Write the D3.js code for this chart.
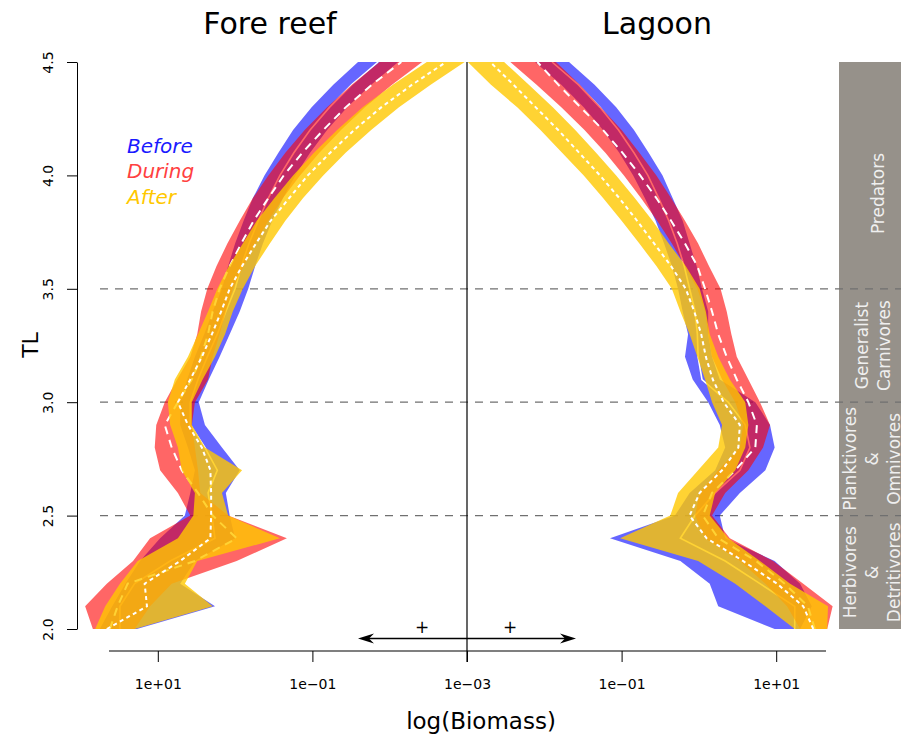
<!DOCTYPE html>
<html><head><meta charset="utf-8">
<script src="https://cdn.jsdelivr.net/npm/d3@7/dist/d3.min.js"></script>
<style>
body{margin:0;background:#fff}
svg{display:block}
text{font-family:"DejaVu Sans",sans-serif}
</style>
</head><body>
<svg id="chart" width="901" height="740"></svg>
<script>
// Trophic levels (y)
const tl = [2.0,2.1,2.2,2.3,2.4,2.5,2.6,2.7,2.8,2.9,3.0,3.1,3.2,3.3,3.4,3.5,3.6,3.7,3.8,3.9,4.0,4.1,4.2,4.3,4.4,4.5];

// log10(biomass) bands: lo / hi and median, per habitat and period
const foreBeforeHi = [1.75,1.59,1.42,1.23,0.97,0.65,0.58,0.52,0.61,0.71,0.71,0.62,0.52,0.40,0.29,0.17,0.09,0.00,-0.11,-0.23,-0.38,-0.56,-0.75,-0.99,-1.27,-1.59];
const foreBeforeLo = [1.27,0.26,0.71,0.52,0.00,0.07,0.12,-0.06,0.17,0.39,0.47,0.34,0.20,0.07,-0.06,-0.17,-0.26,-0.36,-0.48,-0.62,-0.78,-0.97,-1.19,-1.45,-1.76,-2.11];
const foreBeforeMed = [1.49,1.49,1.30,0.84,0.26,0.30,0.35,0.23,0.39,0.58,0.58,0.48,0.36,0.23,0.12,0.00,-0.08,-0.18,-0.30,-0.43,-0.58,-0.76,-0.97,-1.22,-1.51,-1.85];

const foreDuringHi = [1.84,1.94,1.66,1.32,1.10,0.58,0.74,0.97,1.04,1.02,0.91,0.75,0.58,0.49,0.44,0.36,0.24,0.10,-0.06,-0.23,-0.43,-0.65,-0.90,-1.19,-1.51,-1.87];
const foreDuringLo = [1.30,1.10,0.82,-0.02,-0.67,0.09,0.45,0.48,0.52,0.56,0.52,0.35,0.29,0.20,0.12,0.03,-0.11,-0.26,-0.43,-0.62,-0.84,-1.09,-1.37,-1.68,-2.03,-2.42];
const foreDuringMed = [1.62,1.52,1.39,0.52,-0.02,0.29,0.48,0.69,0.82,0.91,0.74,0.56,0.44,0.35,0.29,0.20,0.07,-0.08,-0.24,-0.43,-0.63,-0.87,-1.14,-1.43,-1.77,-2.15];

const foreAfterHi = [1.81,1.68,1.49,1.26,0.74,0.54,0.52,0.69,0.74,0.84,0.87,0.78,0.61,0.48,0.35,0.23,0.08,-0.10,-0.28,-0.51,-0.75,-1.02,-1.32,-1.65,-2.04,-2.48];
const foreAfterLo = [1.30,0.29,0.65,0.49,-0.58,0.09,0.17,-0.09,0.39,0.56,0.56,0.42,0.26,0.13,0.03,-0.10,-0.26,-0.45,-0.65,-0.88,-1.14,-1.43,-1.76,-2.12,-2.53,-2.97];
const foreAfterMed = [1.66,1.14,1.17,0.71,0.32,0.31,0.31,0.32,0.43,0.61,0.74,0.58,0.43,0.30,0.18,0.07,-0.09,-0.27,-0.46,-0.70,-0.94,-1.23,-1.54,-1.89,-2.29,-2.73];

const lagBeforeLo = [0.98,0.25,0.14,-0.24,-1.15,-0.31,-0.12,0.21,0.34,0.27,0.12,-0.08,-0.18,-0.14,-0.21,-0.27,-0.35,-0.45,-0.56,-0.70,-0.85,-1.03,-1.24,-1.49,-1.78,-2.12];
const lagBeforeHi = [1.31,1.46,1.31,0.98,0.34,0.27,0.53,0.86,0.98,0.92,0.73,0.27,0.17,0.12,0.12,0.04,-0.03,-0.12,-0.21,-0.34,-0.47,-0.65,-0.84,-1.07,-1.35,-1.68];
const lagBeforeMed = [1.24,1.24,0.79,0.34,-0.24,-0.05,0.21,0.53,0.66,0.60,0.38,0.04,-0.01,-0.02,-0.05,-0.12,-0.19,-0.28,-0.39,-0.52,-0.66,-0.84,-1.04,-1.28,-1.56,-1.90];

const lagDuringLo = [1.31,1.14,0.86,0.53,0.08,-0.05,0.01,0.25,0.53,0.57,0.47,0.30,0.17,0.12,0.08,-0.02,-0.18,-0.35,-0.54,-0.75,-0.97,-1.21,-1.48,-1.78,-2.10,-2.44];
const lagDuringHi = [1.66,1.73,1.35,0.96,0.40,0.17,0.34,0.64,0.83,0.92,0.79,0.64,0.49,0.42,0.36,0.28,0.13,-0.01,-0.18,-0.36,-0.55,-0.77,-1.00,-1.27,-1.54,-1.85];
const lagDuringMed = [1.50,1.41,1.11,0.74,0.25,0.05,0.17,0.47,0.73,0.75,0.64,0.49,0.36,0.25,0.17,0.08,-0.02,-0.18,-0.36,-0.55,-0.76,-0.99,-1.24,-1.53,-1.82,-2.09];

const lagAfterLo = [1.24,0.86,0.47,-0.01,-1.02,-0.37,-0.27,-0.01,0.25,0.30,0.17,0.08,-0.02,-0.12,-0.24,-0.35,-0.55,-0.77,-1.00,-1.24,-1.49,-1.77,-2.05,-2.35,-2.69,-2.99];
const lagAfterHi = [1.66,1.67,1.18,0.79,0.38,0.14,0.21,0.47,0.60,0.64,0.60,0.40,0.25,0.14,0.09,0.01,-0.17,-0.39,-0.60,-0.83,-1.07,-1.33,-1.60,-1.89,-2.20,-2.52];
const lagAfterMed = [1.48,1.35,1.01,0.57,0.10,-0.12,0.01,0.30,0.51,0.53,0.32,0.18,0.09,0.03,-0.06,-0.17,-0.36,-0.58,-0.80,-1.03,-1.28,-1.55,-1.82,-2.11,-2.40,-2.70];

const periods = ["Before","During","After"];
const habitats = ["Fore reef","Lagoon"];
const leftTicks = [1,-1,-3];
const rightTicks = [-1,1];
const yTicks = [2.0,2.5,3.0,3.5,4.0,4.5];
const guideTL = [2.5,3.0,3.5];
const groups = [
  {lines:["Predators"], tl:3.92, dx:[8]},
  {lines:["Generalist","Carnivores"], tl:3.25, dx:[-8,14]},
  {lines:["Planktivores","&","Omnivores"], tl:2.75, dx:[-20,2,24]},
  {lines:["Herbivores","&","Detritivores"], tl:2.25, dx:[-20,2,24]}
];

const fill = {Before:"rgba(0,0,255,0.6)", During:"rgba(255,0,0,0.6)", After:"rgba(255,200,0,0.8)"};
const textCol = {Before:"#1a1aff", During:"#ff4040", After:"#ffc800"};
const medStyle = {Before:{w:1.6,d:null}, During:{w:2,d:"8,6"}, After:{w:2,d:"4,3.5"}};

const svg = d3.select("#chart");
const y = d3.scaleLinear().domain([2,4.5]).range([629,62]);
const xL = d3.scaleLinear().domain([-3,2]).range([467,80.5]);
const xR = d3.scaleLinear().domain([-3,2]).range([467,853.5]);

// grey strip
svg.append("rect").attr("x",839).attr("y",y(4.5)).attr("width",62).attr("height",y(2)-y(4.5)).attr("fill","#96918a");
groups.forEach(g=>{
  g.lines.forEach((t,i)=>{
    svg.append("text").attr("transform",`translate(${870+g.dx[i]},${y(g.tl)}) rotate(-90)`)
      .attr("text-anchor","middle").attr("dy","0.35em").attr("font-size",17).attr("fill","#efefef").text(t);
  });
});

// dashed guides
svg.selectAll(".guide").data(guideTL).enter().append("line")
  .attr("x1",100).attr("x2",901).attr("y1",d=>y(d)).attr("y2",d=>y(d))
  .attr("stroke","#707070").attr("stroke-width",1.2).attr("stroke-dasharray","8,7");

const data = {
  "Fore reef": {x:xL, Before:[foreBeforeLo,foreBeforeHi,foreBeforeMed], During:[foreDuringLo,foreDuringHi,foreDuringMed], After:[foreAfterLo,foreAfterHi,foreAfterMed]},
  "Lagoon": {x:xR, Before:[lagBeforeLo,lagBeforeHi,lagBeforeMed], During:[lagDuringLo,lagDuringHi,lagDuringMed], After:[lagAfterLo,lagAfterHi,lagAfterMed]}
};

habitats.forEach(h=>{
  const x = data[h].x;
  periods.forEach(p=>{
    const [lo,hi,med] = data[h][p];
    const area = d3.area().y((d,i)=>y(tl[i])).x0((d,i)=>x(lo[i])).x1((d,i)=>x(hi[i]));
    svg.append("path").attr("d",area(tl)).attr("fill",fill[p]);
    const line = d3.line().y((d,i)=>y(tl[i])).x((d,i)=>x(med[i]));
    const l = svg.append("path").attr("d",line(tl)).attr("fill","none").attr("stroke","#fff").attr("stroke-width",medStyle[p].w);
    if (medStyle[p].d) l.attr("stroke-dasharray",medStyle[p].d);
  });
});

// center line
svg.append("line").attr("x1",467).attr("x2",467).attr("y1",y(4.5)).attr("y2",662).attr("stroke","#000").attr("stroke-width",1.2);

// x axes
const fmt = v => "1e" + (v<0?"\u2212":"+") + String(Math.abs(v)).padStart(2,"0");
svg.append("line").attr("x1",109).attr("x2",826).attr("y1",651).attr("y2",651).attr("stroke","#000").attr("stroke-width",1.2);
[[xL,leftTicks],[xR,rightTicks]].forEach(([sc,tv])=>{
  const g = svg.append("g").attr("transform","translate(0,651)")
    .call(d3.axisBottom(sc).tickValues(tv).tickFormat(fmt).tickSize(11).tickPadding(17));
  g.select(".domain").remove();
  g.selectAll("text").attr("font-size",14).attr("font-family","DejaVu Sans").attr("fill","#000");
  g.selectAll("line").attr("stroke","#000");
});

// y axis
const ya = svg.append("g").attr("transform","translate(77,0)")
  .call(d3.axisLeft(y).tickValues(yTicks).tickFormat(d3.format(".1f")).tickSize(10).tickSizeOuter(0));
ya.selectAll(".tick text").attr("transform","rotate(-90)").attr("x",0).attr("y",-24).attr("dy",0)
  .attr("text-anchor","middle").attr("font-size",14).attr("font-family","DejaVu Sans").attr("fill","#000");
ya.select(".domain").attr("stroke","#000");

// arrows
function arrow(x0,x1){
  const s = Math.sign(x1-x0);
  svg.append("line").attr("x1",x0).attr("x2",x1-s*6).attr("y1",638.5).attr("y2",638.5).attr("stroke","#000").attr("stroke-width",1.5);
  svg.append("path").attr("d",`M${x1},638.5 L${x1-s*16},633.5 L${x1-s*11},638.5 L${x1-s*16},643.5 Z`).attr("fill","#000");
}
arrow(467,358); arrow(467,576);
svg.append("text").attr("x",422).attr("y",627).attr("dy","0.35em").attr("text-anchor","middle").attr("font-size",17).text("+");
svg.append("text").attr("x",510).attr("y",627).attr("dy","0.35em").attr("text-anchor","middle").attr("font-size",17).text("+");

// titles
svg.append("text").attr("x",270).attr("y",34).attr("text-anchor","middle").attr("font-size",30).text(habitats[0]);
svg.append("text").attr("x",657).attr("y",34).attr("text-anchor","middle").attr("font-size",30).text(habitats[1]);

// axis titles
svg.append("text").attr("x",481).attr("y",729).attr("text-anchor","middle").attr("font-size",23).text("log(Biomass)");
svg.append("text").attr("transform","translate(38,345) rotate(-90)").attr("text-anchor","middle").attr("font-size",22).text("TL");

// legend
periods.forEach((p,i)=>{
  svg.append("text").attr("x",127).attr("y",153+i*25.3).attr("font-size",20).attr("font-style","italic")
    .attr("fill",textCol[p]).text(p);
});
</script>
</body></html>
